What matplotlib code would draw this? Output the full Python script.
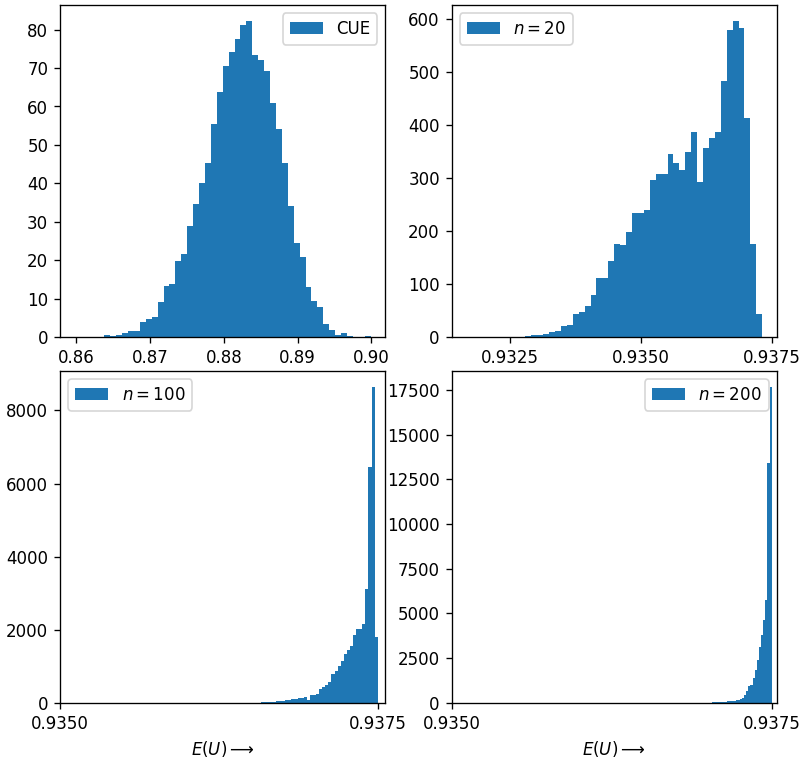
import numpy as np
import matplotlib
matplotlib.use("Agg")
import matplotlib.pyplot as plt

# density values of each histogram (50 equal bins between lo and hi)
cue_range = (0.8598, 0.8999)
cue_density = [0.1, 0.0, 0.0, 0.0, 0.0, 0.5, 0.2, 0.6, 1.0, 1.7,
               1.6, 3.9, 4.6, 5.1, 9.0, 13.2, 13.9, 19.8, 21.7, 28.9,
               34.6, 40.1, 45.4, 55.4, 63.8, 70.6, 74.1, 77.5, 81.2, 82.3,
               73.4, 72.0, 69.2, 61.0, 54.2, 45.4, 34.2, 24.6, 20.9, 13.0,
               9.3, 7.8, 3.5, 1.9, 0.6, 1.0, 0.2, 0.0, 0.0, 0.2]

n20_range = (0.931657, 0.937318)
n20_density = [0.5, 0, 0, 0, 0, 0, 0, 0.5, 1, 1,
               2, 3, 4, 5, 10, 11, 21, 23, 43, 47,
               59, 80, 111, 112, 143, 175, 173, 199, 235, 234,
               239, 297, 308, 307, 345, 329, 315, 349, 388, 292,
               357, 375, 387, 484, 580, 597, 583, 413, 175, 43]

n100_range = (0.936287, 0.9375)
n100_density = [0.5, 0, 0, 0.5, 1, 1, 2, 3, 5, 6,
                8, 10, 15, 20, 25, 30, 35, 45, 55, 60,
                70, 80, 100, 110, 130, 145, 150, 80, 210, 220,
                240, 370, 430, 490, 560, 790, 880, 1000, 1150, 1350,
                1450, 1560, 1860, 2020, 2030, 2150, 3120, 6450, 8650, 1800]

n200_range = (0.936671, 0.9375)
n200_density = [0.5, 0.5, 0.5, 0.5, 0.5, 0.5, 0.5, 0.5, 1, 1,
                1, 2, 2, 3, 4, 5, 6, 8, 10, 12,
                15, 20, 28, 35, 40, 56, 74, 56, 74, 90,
                93, 111, 130, 148, 186, 223, 278, 464, 650, 928,
                1020, 1392, 1856, 2413, 3155, 3800, 4640, 5750, 13400, 17670]

labels = ['CUE', '$n=20$', '$n=100$', '$n=200$']
legend_locs = ['upper right', 'upper left', 'upper left', 'upper right']

top_left_ticks = [0.86, 0.87, 0.88, 0.89, 0.90]
top_left_labels = ['0.86', '0.87', '0.88', '0.89', '0.90']
top_right_ticks = [0.9325, 0.9350, 0.9375]
top_right_labels = ['0.9325', '0.9350', '0.9375']
bottom_ticks = [0.9350, 0.9375]
bottom_labels = ['0.9350', '0.9375']

fig, axs = plt.subplots(2, 2, figsize=(6.7, 6.3167), dpi=120)
fig.subplots_adjust(left=0.0746, right=0.9664, top=0.9934, bottom=0.0726,
                    wspace=0.203, hspace=0.102)
axs = axs.flatten()

datasets = [(cue_range, cue_density), (n20_range, n20_density),
            (n100_range, n100_density), (n200_range, n200_density)]

for idx, ((lo, hi), dens) in enumerate(datasets):
    ax = axs[idx]
    edges = np.linspace(lo, hi, len(dens) + 1)
    ax.hist(edges[:-1], bins=edges, weights=dens, label=labels[idx])
    ax.legend(loc=legend_locs[idx])

axs[0].set_xticks(top_left_ticks, top_left_labels)
axs[1].set_xticks(top_right_ticks, top_right_labels)
for ax in axs[2:]:
    ax.set_xlim(left=0.935)
    ax.set_xticks(bottom_ticks, bottom_labels)
    ax.set_xlabel(r'$E(U) \longrightarrow$')

fig.savefig('out.png', dpi=120)
